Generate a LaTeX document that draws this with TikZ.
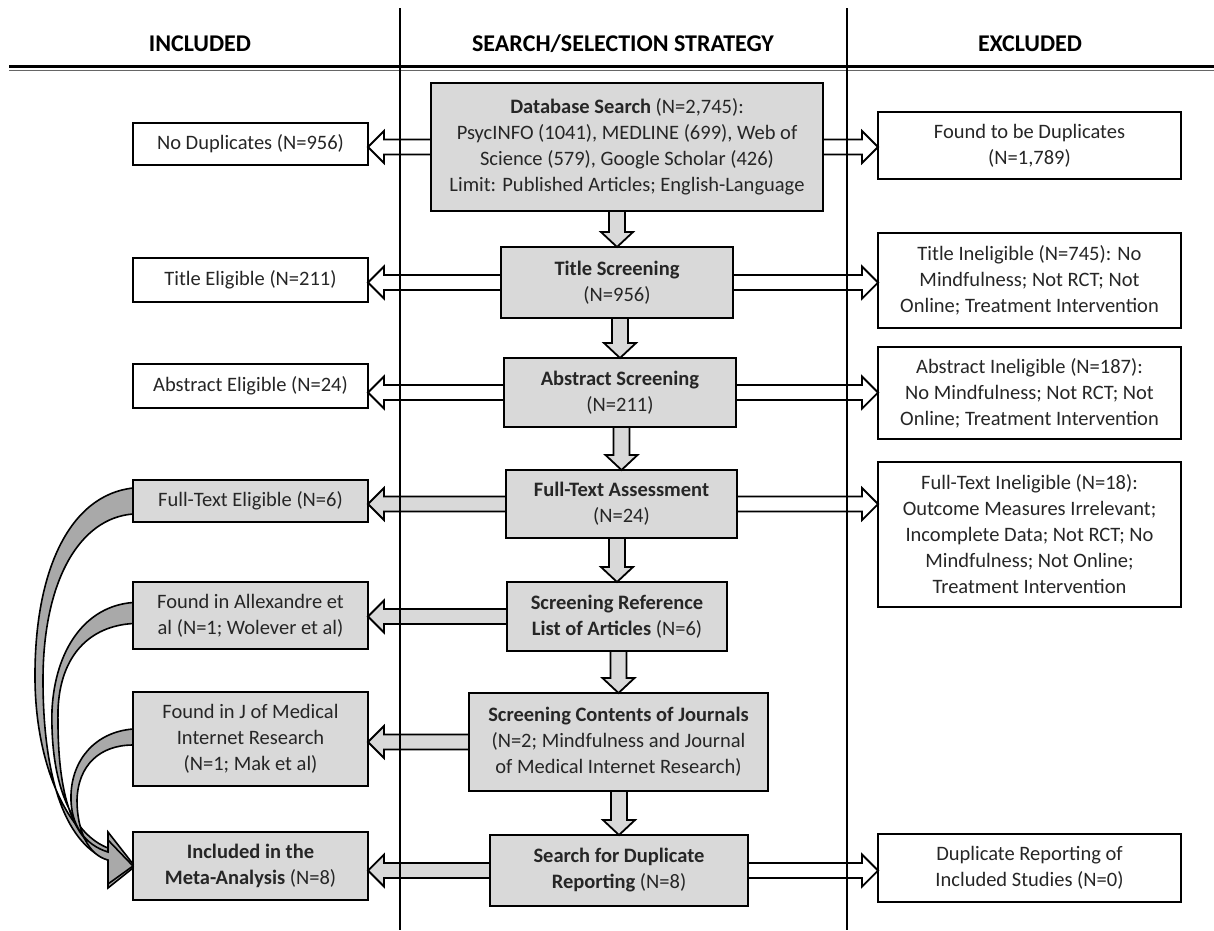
\documentclass[tikz,border=0pt]{standalone}
\usepackage{fontspec}
\setmainfont{Carlito}
\usetikzlibrary{calc}
\definecolor{boxgray}{HTML}{D9D9D9}
\definecolor{bandgray}{HTML}{A9A9A9}

\tikzset{
  box/.style={draw=black,line width=2.2pt,fill=white,align=center,inner sep=0pt,outer sep=0pt,
    font=\fontsize{20.5}{26}\selectfont,text=black!85},
  graybox/.style={box,fill=boxgray},
  barrow/.style={draw=black,line width=1.8pt,line join=miter},
  band/.style={draw=black,line width=1.6pt,fill=bandgray,line join=miter},
  header/.style={font=\fontsize{24}{29}\selectfont\bfseries},
  rule/.style={line width=2.6pt}
}

% block arrows between boxes
\newcommand{\arrowleft}[3]{%
  \draw[barrow,fill=#3] let \p1=(#1.west), \p2=(#2.east) in
    (\x1,\y1+7.5pt) -- (\x2+16pt,\y1+7.5pt) -- (\x2+16pt,\y1+16pt) -- (\x2,\y1)
    -- (\x2+16pt,\y1-16pt) -- (\x2+16pt,\y1-7.5pt) -- (\x1,\y1-7.5pt) -- cycle;}
\newcommand{\arrowright}[2]{%
  \draw[barrow,fill=white] let \p1=(#1.east), \p2=(#2.west) in
    (\x1,\y1+7.5pt) -- (\x2-16pt,\y1+7.5pt) -- (\x2-16pt,\y1+16pt) -- (\x2,\y1)
    -- (\x2-16pt,\y1-16pt) -- (\x2-16pt,\y1-7.5pt) -- (\x1,\y1-7.5pt) -- cycle;}
\newcommand{\arrowdown}[2]{%
  \draw[barrow,fill=boxgray] let \p1=(#1.south), \p2=(#2.north) in
    (\x2-8pt,\y1) -- (\x2-8pt,\y2+15pt) -- (\x2-16pt,\y2+15pt) -- (\x2,\y2)
    -- (\x2+16pt,\y2+15pt) -- (\x2+8pt,\y2+15pt) -- (\x2+8pt,\y1) -- cycle;}

\begin{document}
\begin{tikzpicture}[x=1pt,y=-1pt]
\useasboundingbox[fill=white] (0,0) rectangle (1214,930);

% column headers
\node[header] (hinc) at (200,44) {INCLUDED};
\node[header] (hsel) at (623,44) {SEARCH/SELECTION STRATEGY};
\node[header] (hexc) at (1030,44) {EXCLUDED};

% search/selection strategy
\node[graybox,minimum width=392pt,minimum height=128pt] (dbs) at (627,147)
  {\textbf{Database Search} (N=2,745):\\PsycINFO (1041), MEDLINE (699), Web of\\Science (579), Google Scholar (426)\\Limit: Published Articles; English-Language};
\node[graybox,minimum width=232pt,minimum height=71pt] (tsc) at (617,282.5) {\textbf{Title Screening}\\(N=956)};
\node[graybox,minimum width=232pt,minimum height=69pt] (asc) at (620,392.5) {\textbf{Abstract Screening}\\(N=211)};
\node[graybox,minimum width=231pt,minimum height=68pt] (fta) at (621.5,504) {\textbf{Full-Text Assessment}\\(N=24)};
\node[graybox,minimum width=220pt,minimum height=69pt] (srl) at (617,616.5) {\textbf{Screening Reference}\\\textbf{List of Articles} (N=6)};
\node[graybox,minimum width=299pt,minimum height=98pt] (scj) at (618.5,742)
  {\textbf{Screening Contents of Journals}\\(N=2; Mindfulness and Journal\\of Medical Internet Research)};
\node[graybox,minimum width=258pt,minimum height=71pt] (sdr) at (619,870.5) {\textbf{Search for Duplicate}\\\textbf{Reporting} (N=8)};

% included
\node[box,minimum width=235pt,minimum height=42pt] (nodup) at (250.5,144) {No Duplicates (N=956)};
\node[box,minimum width=235pt,minimum height=44pt] (tel) at (250.5,280) {Title Eligible (N=211)};
\node[box,minimum width=235pt,minimum height=44pt] (ael) at (250.5,386) {Abstract Eligible (N=24)};
\node[graybox,minimum width=235pt,minimum height=42pt] (ftel) at (250.5,501) {Full-Text Eligible (N=6)};
\node[graybox,minimum width=235pt,minimum height=67pt] (alx) at (250.5,615.5) {Found in Allexandre et\\al (N=1; Wolever et al)};
\node[graybox,minimum width=235pt,minimum height=94pt] (jmir) at (250.5,739) {Found in J of Medical\\Internet Research\\(N=1; Mak et al)};
\node[graybox,minimum width=235pt,minimum height=68pt] (inc) at (250.5,866) {\textbf{Included in the}\\\textbf{Meta-Analysis} (N=8)};

% excluded
\node[box,minimum width=303pt,minimum height=67pt] (fdup) at (1029.5,145.5) {Found to be Duplicates\\(N=1,789)};
\node[box,minimum width=303pt,minimum height=95pt] (tin) at (1029.5,280.5)
  {Title Ineligible (N=745): No\\Mindfulness; Not RCT; Not\\Online; Treatment Intervention};
\node[box,minimum width=303pt,minimum height=92pt] (ain) at (1029.5,393)
  {Abstract Ineligible (N=187):\\No Mindfulness; Not RCT; Not\\Online; Treatment Intervention};
\node[box,minimum width=303pt,minimum height=145pt] (ftin) at (1029.5,534.5)
  {Full-Text Ineligible (N=18):\\Outcome Measures Irrelevant;\\Incomplete Data; Not RCT; No\\Mindfulness; Not Online;\\Treatment Intervention};
\node[box,minimum width=303pt,minimum height=68pt] (drep) at (1029.5,868) {Duplicate Reporting of\\Included Studies (N=0)};

% arrows
\foreach \a/\b in {dbs/tsc,tsc/asc,asc/fta,fta/srl,srl/scj,scj/sdr} {\arrowdown{\a}{\b}}
\foreach \a/\b/\c in {dbs/nodup/white,tsc/tel/white,asc/ael/white,fta/ftel/boxgray,
  srl/alx/boxgray,scj/jmir/boxgray,sdr/inc/boxgray} {\arrowleft{\a}{\b}{\c}}
\foreach \a/\b in {dbs/fdup,tsc/tin,asc/ain,fta/ftin,sdr/drep} {\arrowright{\a}{\b}}

% curved arrows into the meta-analysis
\draw[band] ($(ftel.west)+(0,-13)$) .. controls (70,495) and (34,570) .. (35,680)
  .. controls (36,770) and (70,835) .. (108,852) -- (108,838) -- ($(inc.west)+(0,2)$)
  -- (108,888) -- (108,860) .. controls (62,842) and (43,770) .. (43,680)
  .. controls (43,580) and (80,518) .. ($(ftel.west)+(0,13)$) -- cycle;
\draw[band] ($(alx.west)+(0,-13)$) .. controls (85,606) and (55,650) .. (52,710)
  .. controls (50,790) and (75,835) .. (108,848) -- (108,832) -- ($(inc.west)+(0,-2)$)
  -- (108,880) -- (108,856) .. controls (70,840) and (57,790) .. (58,710)
  .. controls (60,655) and (90,626) .. ($(alx.west)+(0,8)$) -- cycle;
\draw[band] ($(jmir.west)+(0,-10)$) .. controls (95,732) and (72,760) .. (71,795)
  .. controls (70,825) and (85,845) .. (108,852) -- (108,840) -- (inc.west)
  -- (108,884) -- (108,860) .. controls (88,855) and (77,830) .. (77,800)
  .. controls (78,765) and (100,745) .. ($(jmir.west)+(0,6)$) -- cycle;

% column rules
\draw[line width=3pt] (9,66.5) -- (1214,66.5);
\draw[line width=1pt,black!60] (9,70.5) -- (1214,70.5);
\draw[rule] (400,8) -- (400,930);
\draw[rule] (847,8) -- (847,930);
\end{tikzpicture}
\end{document}
